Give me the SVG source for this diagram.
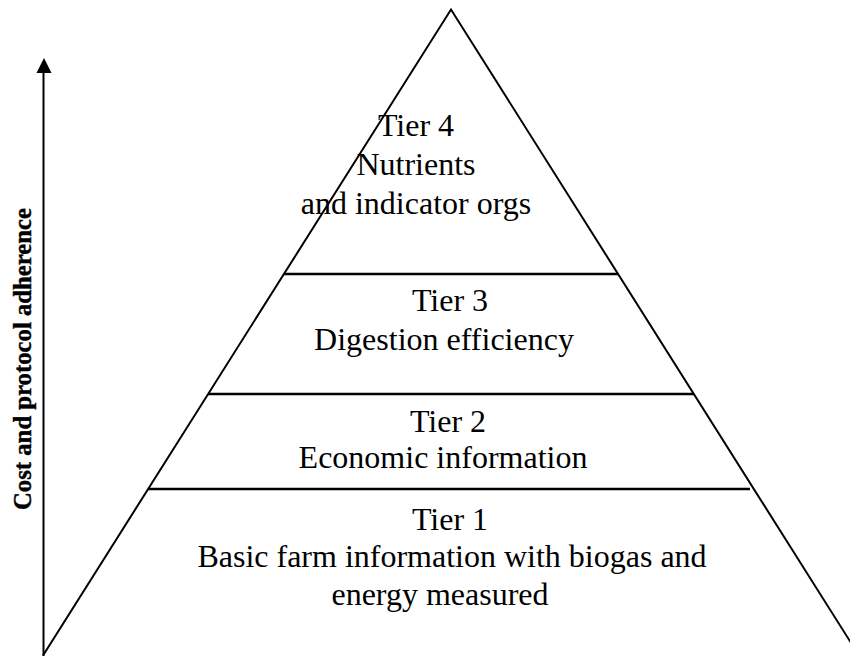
<svg xmlns="http://www.w3.org/2000/svg" width="850" height="656" viewBox="0 0 850 656">
<style>
.ln{stroke:#000;stroke-width:2;fill:none}
.tier{stroke:#000;stroke-width:2.5}
.t{font-family:"Liberation Serif","Times New Roman",serif;font-size:32px;fill:#000;text-anchor:middle}
.ax{font-family:"Liberation Serif","Times New Roman",serif;font-weight:bold;font-size:25px;fill:#000;text-anchor:middle;stroke:#000;stroke-width:0.4}
</style>
<rect width="850" height="656" fill="#fff"/>
<g id="connectors">
<line class="ln" x1="43.5" y1="656" x2="43.5" y2="72"/>
<polygon points="44,58 36.5,73 51.5,73" fill="#000"/>
</g>
<g id="pyramid">
<path class="ln" d="M43,655.5 L451,9.5 L859,655.5"/>
</g>
<g id="tier4">
<text class="t" x="416" y="136">Tier 4</text>
<text class="t" x="416" y="175">Nutrients</text>
<text class="t" x="416" y="214">and indicator orgs</text>
</g>
<g id="tier3">
<line class="tier" x1="284" y1="274" x2="618" y2="274"/>
<text class="t" x="450" y="311">Tier 3</text>
<text class="t" x="444" y="350">Digestion efficiency</text>
</g>
<g id="tier2">
<line class="tier" x1="208" y1="394" x2="694" y2="394"/>
<text class="t" x="448" y="432">Tier 2</text>
<text class="t" x="443" y="468">Economic information</text>
</g>
<g id="tier1">
<line class="tier" x1="148" y1="489" x2="750" y2="489"/>
<text class="t" x="450" y="530">Tier 1</text>
<text class="t" x="452" y="567">Basic farm information with biogas and</text>
<text class="t" x="440" y="605">energy measured</text>
</g>
<g id="axis-label">
<text class="ax" transform="translate(31,359) rotate(-90)" textLength="302" lengthAdjust="spacingAndGlyphs">Cost and protocol adherence</text>
</g>
</svg>
